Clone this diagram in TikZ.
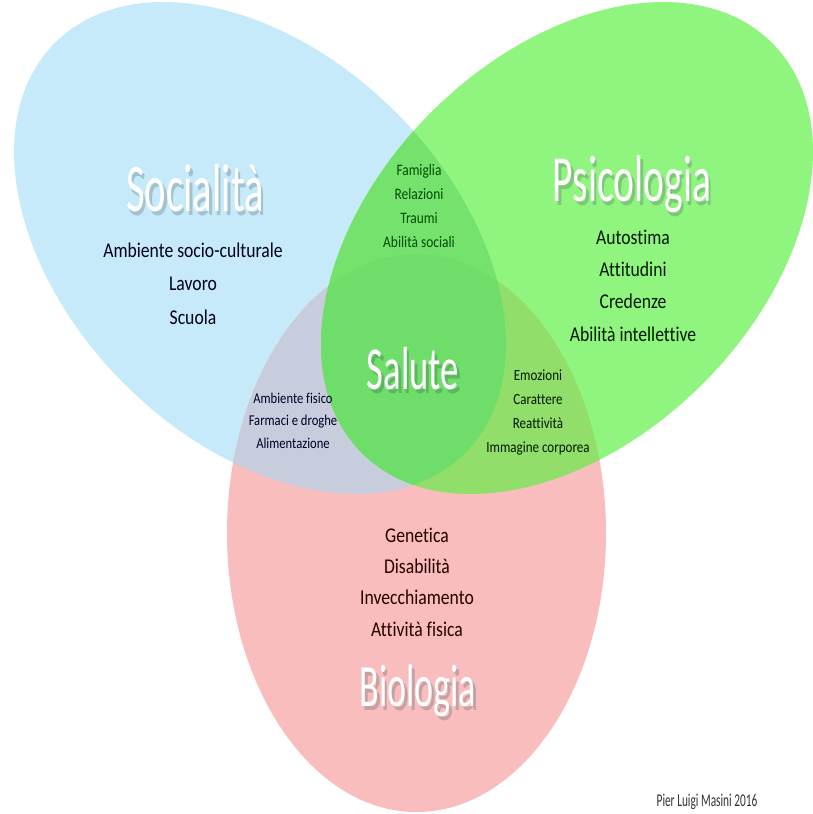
\documentclass[tikz,border=0pt]{standalone}
\usepackage{fontspec}
\newfontfamily\bodyfont[FakeStretch=0.84,Ligatures=CommonOff]{Carlito}
\newfontfamily\titlefont[FakeStretch=0.6,Ligatures=CommonOff]{Carlito}
\newfontfamily\sigfont[FakeStretch=0.63,Ligatures=CommonOff]{Carlito}
\definecolor{blueC}{HTML}{C6EAF9}
\definecolor{greenC}{HTML}{8FF57E}
\definecolor{pinkC}{HTML}{F9BDBD}
\definecolor{bpC}{HTML}{C8CDDD}
\definecolor{bgC}{HTML}{76E26E}
\definecolor{gpC}{HTML}{92DE6B}
\definecolor{allC}{HTML}{6EDD6A}
\definecolor{shBlue}{HTML}{A3C1CE}
\definecolor{shGreen}{HTML}{7CC878}
\definecolor{shAll}{HTML}{5FB462}
\definecolor{shPink}{HTML}{C6A1A4}
\def\blueell{(260,566) ellipse [x radius=290, y radius=192]}
\def\greenell{(567,566) ellipse [x radius=290, y radius=192]}
\def\pinkell{(416.5,281) ellipse [x radius=189.5, y radius=279]}
\tikzset{
  bluerot/.style={rotate around={-45:(260,566)}},
  greenrot/.style={rotate around={45:(567,566)}},
  lst/.style={align=center, inner sep=0pt},
  ttl/.style={inner sep=0pt, anchor=base, text=white},
}
% title text with a drop shadow in one node: #1 size, #2 shadow colour, #3 text
\newcommand\shadowed[3]{\titlefont\fontsize{#1}{#1}\selectfont
  \makebox[0pt][l]{\hspace{2.5pt}\raisebox{-3.5pt}{\textcolor{#2}{#3}}}#3}
\begin{document}
\begin{tikzpicture}[x=1pt,y=1pt]
\useasboundingbox (0,0) rectangle (813,814);
\fill[white] (0,0) rectangle (813,814);
% base ellipses
\fill[blueC, bluerot] \blueell;
\fill[pinkC] \pinkell;
\fill[greenC, greenrot] \greenell;
% blue & pink
\begin{scope}
  \clip[bluerot] \blueell;
  \fill[bpC] \pinkell;
\end{scope}
% blue & green
\begin{scope}
  \clip[bluerot] \blueell;
  \fill[bgC, greenrot] \greenell;
\end{scope}
% green & pink
\begin{scope}
  \clip[greenrot] \greenell;
  \fill[gpC] \pinkell;
\end{scope}
% all three
\begin{scope}
  \clip[bluerot] \blueell;
  \clip[greenrot] \greenell;
  \fill[allC] \pinkell;
\end{scope}

% titles
\node[ttl] (tsoc) at (195,602) {\shadowed{68}{shBlue}{Socialità}};
\node[ttl] (tpsi) at (632,612) {\shadowed{66}{shGreen}{Psicologia}};
\node[ttl] (tsal) at (413,424) {\shadowed{61}{shAll}{Salute}};
\node[ttl] (tbio) at (418,107) {\shadowed{60}{shPink}{Biologia}};

% lists
\node[lst, text=black!90!blue, font=\bodyfont\fontsize{21}{33.5}\selectfont] (lsoc) at (193,530.5)
  {Ambiente socio-culturale\\Lavoro\\Scuola};
\node[lst, text=black!85!green!60!black, font=\bodyfont\fontsize{21}{32.3}\selectfont] (lpsi) at (633,528.5)
  {Autostima\\Attitudini\\Credenze\\Abilità intellettive};
\node[lst, text=green!30!black, font=\bodyfont\fontsize{16}{24}\selectfont] (lfam) at (419,608)
  {Famiglia\\Relazioni\\Traumi\\Abilità sociali};
\node[lst, text=black!85!blue, font=\bodyfont\fontsize{15}{22.5}\selectfont] (lamb) at (293,393.5)
  {Ambiente fisico\\Farmaci e droghe\\Alimentazione};
\node[lst, text=black!80!green!50!black, font=\bodyfont\fontsize{15.5}{24}\selectfont] (lemo) at (538,401)
  {Emozioni\\Carattere\\Reattività\\Immagine corporea};
\node[lst, text=black!85!red, font=\bodyfont\fontsize{21}{31.3}\selectfont] (lbio) at (417,232)
  {Genetica\\Disabilità\\Invecchiamento\\Attività fisica};

% signature
\node[inner sep=0pt, text=black!80, font=\sigfont\fontsize{18}{18}\selectfont] (sig) at (707,12) {Pier Luigi Masini 2016};
\end{tikzpicture}
\end{document}
